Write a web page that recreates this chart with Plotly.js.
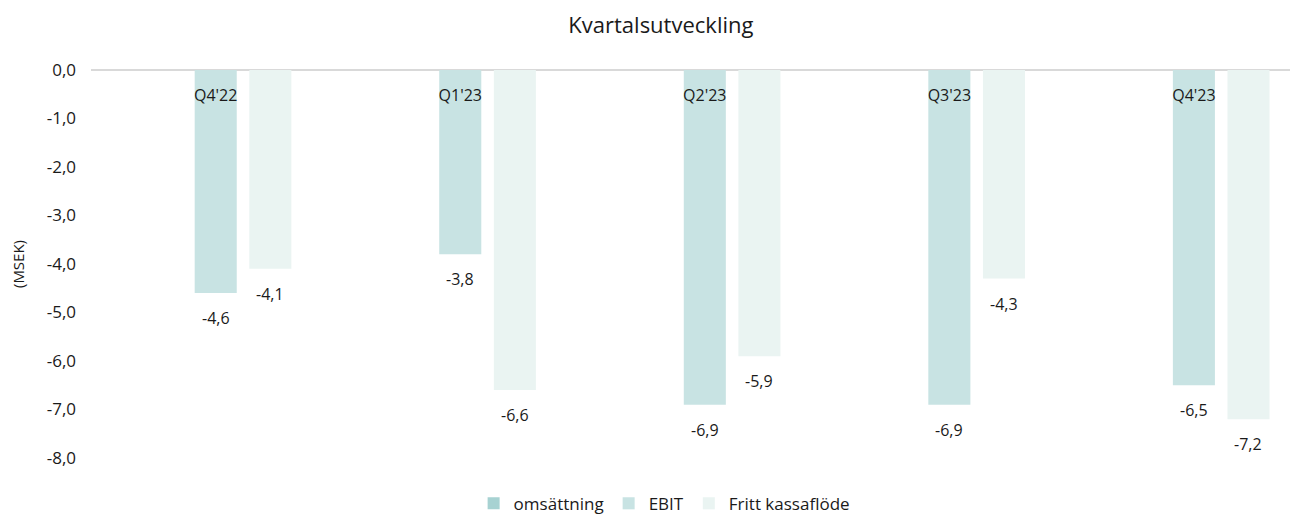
<!DOCTYPE html>
<html>
<head>
<meta charset="utf-8">
<script src="https://cdn.plot.ly/plotly-3.0.1.min.js"></script>
<style>
  html, body { margin: 0; padding: 0; background: #fff; }
  #chart { width: 1301px; height: 515px; }
</style>
</head>
<body>
<div id="chart"></div>
<script>

// Quarterly values (MSEK)
const quarters = [ "Q4'22", "Q1'23", "Q2'23", "Q3'23", "Q4'23" ];
const omsattning = [ null, null, null, null, null ];
const ebit = [ -4.6, -3.8, -6.9, -6.9, -6.5 ];
const frittKassaflode = [ -4.1, -6.6, -5.9, -4.3, -7.2 ];
const yTicks = [ 0, -1, -2, -3, -4, -5, -6, -7, -8 ];

const font = 'Open Sans, Lato, sans-serif';
const ink = '#1a1a1a';

// swedish style number with a plain hyphen as minus
const fmt = v => v.toFixed( 1 ).replace( '.', ',' );

function barTrace( name, y, color ) {

    return {
        type: 'bar',
        name: name,
        x: quarters,
        y: y,
        marker: { color: color },
        hoverinfo: 'skip'
    };

}

const chartData = [
    barTrace( 'omsättning', omsattning, '#a7d2d2' ),
    barTrace( 'EBIT', ebit, '#c8e3e3' ),
    barTrace( 'Fritt kassaflöde', frittKassaflode, '#eaf4f2' )
];

// value labels sit a little below the end of each bar
function valueLabels( values, shift ) {

    return values.map( ( v, i ) => ( {
        x: quarters[ i ],
        y: v,
        xref: 'x',
        yref: 'y',
        text: fmt( v ),
        showarrow: false,
        xshift: shift,
        yshift: -25,
        font: { size: 16, color: ink }
    } ) );

}

const chartLayout = {
    width: 1301,
    height: 515,
    margin: { l: 91, r: 11, t: 70, b: 57, autoexpand: false },
    paper_bgcolor: '#fff',
    plot_bgcolor: '#fff',
    font: { family: font, size: 16, color: ink },
    title: {
        text: 'Kvartalsutveckling',
        font: { size: 22, color: ink },
        x: 0.508,
        xanchor: 'center',
        y: 0.95,
        yanchor: 'middle'
    },
    barmode: 'group',
    bargap: 0.33,
    bargroupgap: 0.23,
    xaxis: {
        type: 'category',
        range: [ -0.51, 4.393 ],
        anchor: 'free',
        position: 1,
        side: 'bottom',
        showline: false,
        showgrid: false,
        zeroline: false,
        ticks: '',
        ticklabelstandoff: 14,
        tickfont: { size: 16, color: ink }
    },
    yaxis: {
        range: [ -8, 0 ],
        tickmode: 'array',
        tickvals: yTicks,
        ticktext: yTicks.map( fmt ),
        showgrid: false,
        zeroline: true,
        zerolinecolor: '#d9d9d9',
        zerolinewidth: 2,
        showline: false,
        ticks: '',
        ticklabelstandoff: 14,
        tickfont: { size: 17, color: ink },
        title: {
            text: '(MSEK)',
            font: { size: 15, color: ink },
            standoff: 18
        }
    },
    legend: {
        orientation: 'h',
        x: 0.478,
        xanchor: 'center',
        y: -0.118,
        yanchor: 'middle',
        font: { size: 17, color: ink },
        itemwidth: 30,
        traceorder: 'normal'
    },
    showlegend: true,
    annotations: [
        ...valueLabels( ebit, 0 ),
        ...valueLabels( frittKassaflode, 54.5 )
    ]
};

Plotly.newPlot( 'chart', chartData, chartLayout, { displayModeBar: false, staticPlot: true } );

</script>
</body>
</html>
